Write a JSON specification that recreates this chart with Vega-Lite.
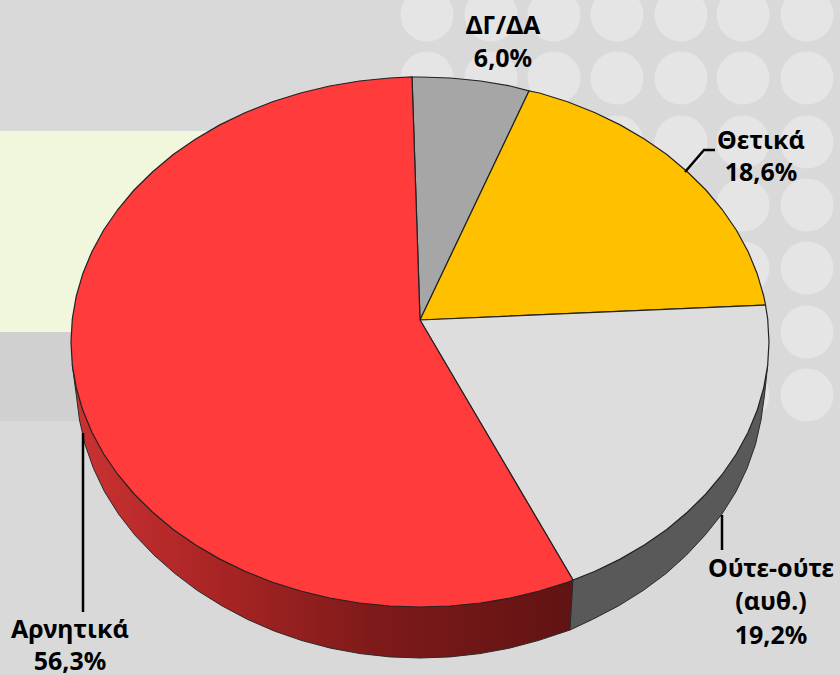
{
"$schema":"https://vega.github.io/schema/vega-lite/v6.json",
"width":840,"height":675,"padding":0,"autosize":{"type":"none"},
"background":"#D9D9D9",
"config":{"view":{"stroke":null}},
"resolve":{"scale":{"fill":"independent"}},
"datasets":{
"bands":[{"name":"pale","x0":0,"x1":220,"y0":131,"y1":332},{"name":"dark","x0":0,"x1":220,"y0":332,"y1":421}],
"dots":[
{"cx":427,"cy":15},{"cx":491,"cy":15},{"cx":554,"cy":15},{"cx":617,"cy":15},{"cx":681,"cy":15},{"cx":743,"cy":15},{"cx":807,"cy":15},
{"cx":427,"cy":78},{"cx":491,"cy":78},{"cx":554,"cy":78},{"cx":617,"cy":78},{"cx":681,"cy":78},{"cx":743,"cy":78},{"cx":807,"cy":78},
{"cx":617,"cy":142},{"cx":681,"cy":142},{"cx":743,"cy":142},{"cx":807,"cy":142},
{"cx":743,"cy":205},{"cx":807,"cy":205},
{"cx":743,"cy":268},{"cx":807,"cy":268},
{"cx":743,"cy":332},{"cx":807,"cy":332},
{"cx":743,"cy":395},{"cx":807,"cy":395}],
"sideRed":[
{"n":0,"px":573,"py":580},{"n":1,"px":570,"py":630},{"n":2,"px":538,"py":640.6},{"n":3,"px":509.3,"py":648.2},{"n":4,"px":479.9,"py":653.6},{"n":5,"px":450.1,"py":656.9},{"n":6,"px":420,"py":658},{"n":7,"px":389.9,"py":656.9},{"n":8,"px":360.1,"py":653.6},{"n":9,"px":330.7,"py":648.2},{"n":10,"px":302,"py":640.6},{"n":11,"px":274.2,"py":631},{"n":12,"px":247.5,"py":619.4},{"n":13,"px":222.1,"py":605.9},{"n":14,"px":197.5,"py":590.6},{"n":15,"px":175,"py":573.6},{"n":16,"px":154,"py":555.1},{"n":17,"px":135,"py":535.2},{"n":18,"px":118.5,"py":514},{"n":19,"px":104.5,"py":491.7},{"n":20,"px":93.5,"py":468.5},{"n":21,"px":85,"py":444.5},{"n":22,"px":79.5,"py":420},{"n":23,"px":76.3,"py":395.1},{"n":24,"px":72.3,"py":365.1},{"n":25,"px":573,"py":580}],
"sideGrey":[
{"n":0,"px":573,"py":580},{"n":1,"px":570,"py":630},{"n":2,"px":592.5,"py":619.4},{"n":3,"px":618.5,"py":605.9},{"n":4,"px":643,"py":590.6},{"n":5,"px":666,"py":573.6},{"n":6,"px":686.5,"py":555.1},{"n":7,"px":705,"py":535.2},{"n":8,"px":722,"py":514},{"n":9,"px":736,"py":491.7},{"n":10,"px":747,"py":468.5},{"n":11,"px":755.5,"py":444.5},{"n":12,"px":761,"py":420},{"n":13,"px":764.5,"py":395.1},{"n":14,"px":767.7,"py":365.1},{"n":15,"px":573,"py":580}],
"slices":[
{"slice":"ΔΓ/ΔΑ","n":0,"px":420,"py":320},{"slice":"ΔΓ/ΔΑ","n":1,"px":412,"py":77},{"slice":"ΔΓ/ΔΑ","n":2,"px":420,"py":77},{"slice":"ΔΓ/ΔΑ","n":3,"px":450.4,"py":78},{"slice":"ΔΓ/ΔΑ","n":4,"px":480.6,"py":81},{"slice":"ΔΓ/ΔΑ","n":5,"px":510.3,"py":86},{"slice":"ΔΓ/ΔΑ","n":6,"px":529,"py":91},{"slice":"ΔΓ/ΔΑ","n":7,"px":420,"py":320},
{"slice":"Θετικά","n":0,"px":420,"py":320},{"slice":"Θετικά","n":1,"px":529,"py":91},{"slice":"Θετικά","n":2,"px":539.4,"py":93},{"slice":"Θετικά","n":3,"px":567.5,"py":101.8},{"slice":"Θετικά","n":4,"px":594.5,"py":112.5},{"slice":"Θετικά","n":5,"px":620.2,"py":124.9},{"slice":"Θετικά","n":6,"px":644.3,"py":139},{"slice":"Θετικά","n":7,"px":666.8,"py":154.6},{"slice":"Θετικά","n":8,"px":687.3,"py":171.7},{"slice":"Θετικά","n":9,"px":705.9,"py":190},{"slice":"Θετικά","n":10,"px":722.2,"py":209.5},{"slice":"Θετικά","n":11,"px":736.3,"py":230},{"slice":"Θετικά","n":12,"px":748,"py":251.4},{"slice":"Θετικά","n":13,"px":757.1,"py":273.4},{"slice":"Θετικά","n":14,"px":763.7,"py":296},{"slice":"Θετικά","n":15,"px":765.5,"py":305},{"slice":"Θετικά","n":16,"px":420,"py":320},
{"slice":"Ούτε-ούτε","n":0,"px":420,"py":320},{"slice":"Ούτε-ούτε","n":1,"px":765.5,"py":305},{"slice":"Ούτε-ούτε","n":2,"px":767.7,"py":318.9},{"slice":"Ούτε-ούτε","n":3,"px":769,"py":342},{"slice":"Ούτε-ούτε","n":4,"px":767.7,"py":365.1},{"slice":"Ούτε-ούτε","n":5,"px":763.7,"py":388},{"slice":"Ούτε-ούτε","n":6,"px":757.1,"py":410.6},{"slice":"Ούτε-ούτε","n":7,"px":748,"py":432.6},{"slice":"Ούτε-ούτε","n":8,"px":736.3,"py":454},{"slice":"Ούτε-ούτε","n":9,"px":722.2,"py":474.5},{"slice":"Ούτε-ούτε","n":10,"px":705.9,"py":494},{"slice":"Ούτε-ούτε","n":11,"px":687.3,"py":512.3},{"slice":"Ούτε-ούτε","n":12,"px":666.8,"py":529.4},{"slice":"Ούτε-ούτε","n":13,"px":644.3,"py":545},{"slice":"Ούτε-ούτε","n":14,"px":620.2,"py":559.1},{"slice":"Ούτε-ούτε","n":15,"px":594.5,"py":571.5},{"slice":"Ούτε-ούτε","n":16,"px":573,"py":580},{"slice":"Ούτε-ούτε","n":17,"px":420,"py":320},
{"slice":"Αρνητικά","n":0,"px":420,"py":320},{"slice":"Αρνητικά","n":1,"px":573,"py":580},{"slice":"Αρνητικά","n":2,"px":567.5,"py":582.2},{"slice":"Αρνητικά","n":3,"px":539.4,"py":591},{"slice":"Αρνητικά","n":4,"px":510.3,"py":598},{"slice":"Αρνητικά","n":5,"px":480.6,"py":603},{"slice":"Αρνητικά","n":6,"px":450.4,"py":606},{"slice":"Αρνητικά","n":7,"px":420,"py":607},{"slice":"Αρνητικά","n":8,"px":389.6,"py":606},{"slice":"Αρνητικά","n":9,"px":359.4,"py":603},{"slice":"Αρνητικά","n":10,"px":329.7,"py":598},{"slice":"Αρνητικά","n":11,"px":300.6,"py":591},{"slice":"Αρνητικά","n":12,"px":272.5,"py":582.2},{"slice":"Αρνητικά","n":13,"px":245.5,"py":571.5},{"slice":"Αρνητικά","n":14,"px":219.8,"py":559.1},{"slice":"Αρνητικά","n":15,"px":195.7,"py":545},{"slice":"Αρνητικά","n":16,"px":173.2,"py":529.4},{"slice":"Αρνητικά","n":17,"px":152.7,"py":512.3},{"slice":"Αρνητικά","n":18,"px":134.1,"py":494},{"slice":"Αρνητικά","n":19,"px":117.8,"py":474.5},{"slice":"Αρνητικά","n":20,"px":103.7,"py":454},{"slice":"Αρνητικά","n":21,"px":92,"py":432.6},{"slice":"Αρνητικά","n":22,"px":82.9,"py":410.6},{"slice":"Αρνητικά","n":23,"px":76.3,"py":388},{"slice":"Αρνητικά","n":24,"px":72.3,"py":365.1},{"slice":"Αρνητικά","n":25,"px":71,"py":342},{"slice":"Αρνητικά","n":26,"px":72.3,"py":318.9},{"slice":"Αρνητικά","n":27,"px":76.3,"py":296},{"slice":"Αρνητικά","n":28,"px":82.9,"py":273.4},{"slice":"Αρνητικά","n":29,"px":92,"py":251.4},{"slice":"Αρνητικά","n":30,"px":103.7,"py":230},{"slice":"Αρνητικά","n":31,"px":117.8,"py":209.5},{"slice":"Αρνητικά","n":32,"px":134.1,"py":190},{"slice":"Αρνητικά","n":33,"px":152.7,"py":171.7},{"slice":"Αρνητικά","n":34,"px":173.2,"py":154.6},{"slice":"Αρνητικά","n":35,"px":195.7,"py":139},{"slice":"Αρνητικά","n":36,"px":219.8,"py":124.9},{"slice":"Αρνητικά","n":37,"px":245.5,"py":112.5},{"slice":"Αρνητικά","n":38,"px":272.5,"py":101.8},{"slice":"Αρνητικά","n":39,"px":300.6,"py":93},{"slice":"Αρνητικά","n":40,"px":329.7,"py":86},{"slice":"Αρνητικά","n":41,"px":359.4,"py":81},{"slice":"Αρνητικά","n":42,"px":389.6,"py":78},{"slice":"Αρνητικά","n":43,"px":412,"py":77},{"slice":"Αρνητικά","n":44,"px":420,"py":320}],
"leaders":[
{"who":"Αρνητικά","n":0,"px":83,"py":433},{"who":"Αρνητικά","n":1,"px":83,"py":612},
{"who":"Ούτε-ούτε","n":0,"px":722,"py":515},{"who":"Ούτε-ούτε","n":1,"px":722,"py":550},
{"who":"Θετικά","n":0,"px":685,"py":172},{"who":"Θετικά","n":1,"px":704,"py":150},{"who":"Θετικά","n":2,"px":715,"py":150}],
"labels":[
{"t":"ΔΓ/ΔΑ","px":503,"py":26},{"t":"6,0%","px":503,"py":59},
{"t":"Θετικά","px":761,"py":141},{"t":"18,6%","px":761,"py":173},
{"t":"Ούτε-ούτε","px":771,"py":569},{"t":"(αυθ.)","px":771,"py":602},{"t":"19,2%","px":771,"py":636},
{"t":"Αρνητικά","px":70,"py":630},{"t":"56,3%","px":70,"py":662}]
},
"layer":[
{"data":{"name":"bands"},"mark":{"type":"rect"},
"encoding":{"x":{"field":"x0","type":"quantitative","scale":{"domain":[0,840],"nice":false,"zero":false},"axis":null},"x2":{"field":"x1"},
"y":{"field":"y0","type":"quantitative","scale":{"domain":[675,0],"nice":false,"zero":false},"axis":null},"y2":{"field":"y1"},
"fill":{"field":"name","type":"nominal","scale":{"domain":["pale","dark"],"range":["#F0F7DC","#D0D0D0"]},"legend":null}}},
{"data":{"name":"dots"},"mark":{"type":"point","filled":true,"opacity":1,"color":"#E5E5E5","size":2809,"shape":"circle"},
"encoding":{"x":{"field":"cx","type":"quantitative","axis":null},"y":{"field":"cy","type":"quantitative","axis":null}}},
{"data":{"name":"sideRed"},"mark":{"type":"line","stroke":"#2a2a2a","strokeWidth":1,"fill":{"gradient":"linear","x1":0,"y1":0,"x2":1,"y2":0,"stops":[{"offset":0,"color":"#CC3232"},{"offset":0.3,"color":"#A82424"},{"offset":0.6,"color":"#7F1A1A"},{"offset":1,"color":"#611313"}]}},
"encoding":{"x":{"field":"px","type":"quantitative","axis":null},"y":{"field":"py","type":"quantitative","axis":null},"order":{"field":"n","type":"quantitative"}}},
{"data":{"name":"sideGrey"},"mark":{"type":"line","stroke":"#2a2a2a","strokeWidth":1,"fill":"#595959"},
"encoding":{"x":{"field":"px","type":"quantitative","axis":null},"y":{"field":"py","type":"quantitative","axis":null},"order":{"field":"n","type":"quantitative"}}},
{"data":{"name":"slices"},"mark":{"type":"line","stroke":"#222222","strokeWidth":1.2},
"encoding":{"x":{"field":"px","type":"quantitative","axis":null},"y":{"field":"py","type":"quantitative","axis":null},"order":{"field":"n","type":"quantitative"},
"fill":{"field":"slice","type":"nominal","scale":{"domain":["Αρνητικά","ΔΓ/ΔΑ","Θετικά","Ούτε-ούτε"],"range":["#FF3B3B","#A6A6A6","#FFC000","#DDDDDD"]},"legend":null}}},
{"data":{"name":"leaders"},"mark":{"type":"line","stroke":"#000000","strokeWidth":2.5},
"encoding":{"x":{"field":"px","type":"quantitative","axis":null},"y":{"field":"py","type":"quantitative","axis":null},"order":{"field":"n","type":"quantitative"},"detail":{"field":"who"}}},
{"data":{"name":"labels"},"mark":{"type":"text","font":"Noto Sans","fontWeight":"bold","fontSize":25,"color":"#000000","align":"center","baseline":"middle"},
"encoding":{"x":{"field":"px","type":"quantitative","axis":null},"y":{"field":"py","type":"quantitative","axis":null},"text":{"field":"t"}}}
]
}
